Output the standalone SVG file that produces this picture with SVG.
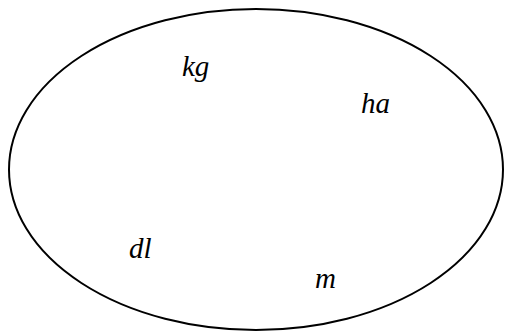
<svg xmlns="http://www.w3.org/2000/svg" width="505" height="332" viewBox="0 0 505 332">
<style>
.lbl{font-family:"Liberation Serif","DejaVu Serif",serif;font-style:italic;font-size:29px;fill:#000}
</style>
<rect width="505" height="332" fill="#fff"/>
<g id="set">
<ellipse cx="256" cy="169.5" rx="247" ry="160.5" fill="none" stroke="#000" stroke-width="2"/>
</g>
<g id="kg"><text class="lbl" x="182" y="76">kg</text></g>
<g id="ha"><text class="lbl" x="361" y="113">ha</text></g>
<g id="dl"><text class="lbl" x="129" y="258">dl</text></g>
<g id="m"><text class="lbl" x="315" y="288">m</text></g>
<g id="connectors"></g>
</svg>
